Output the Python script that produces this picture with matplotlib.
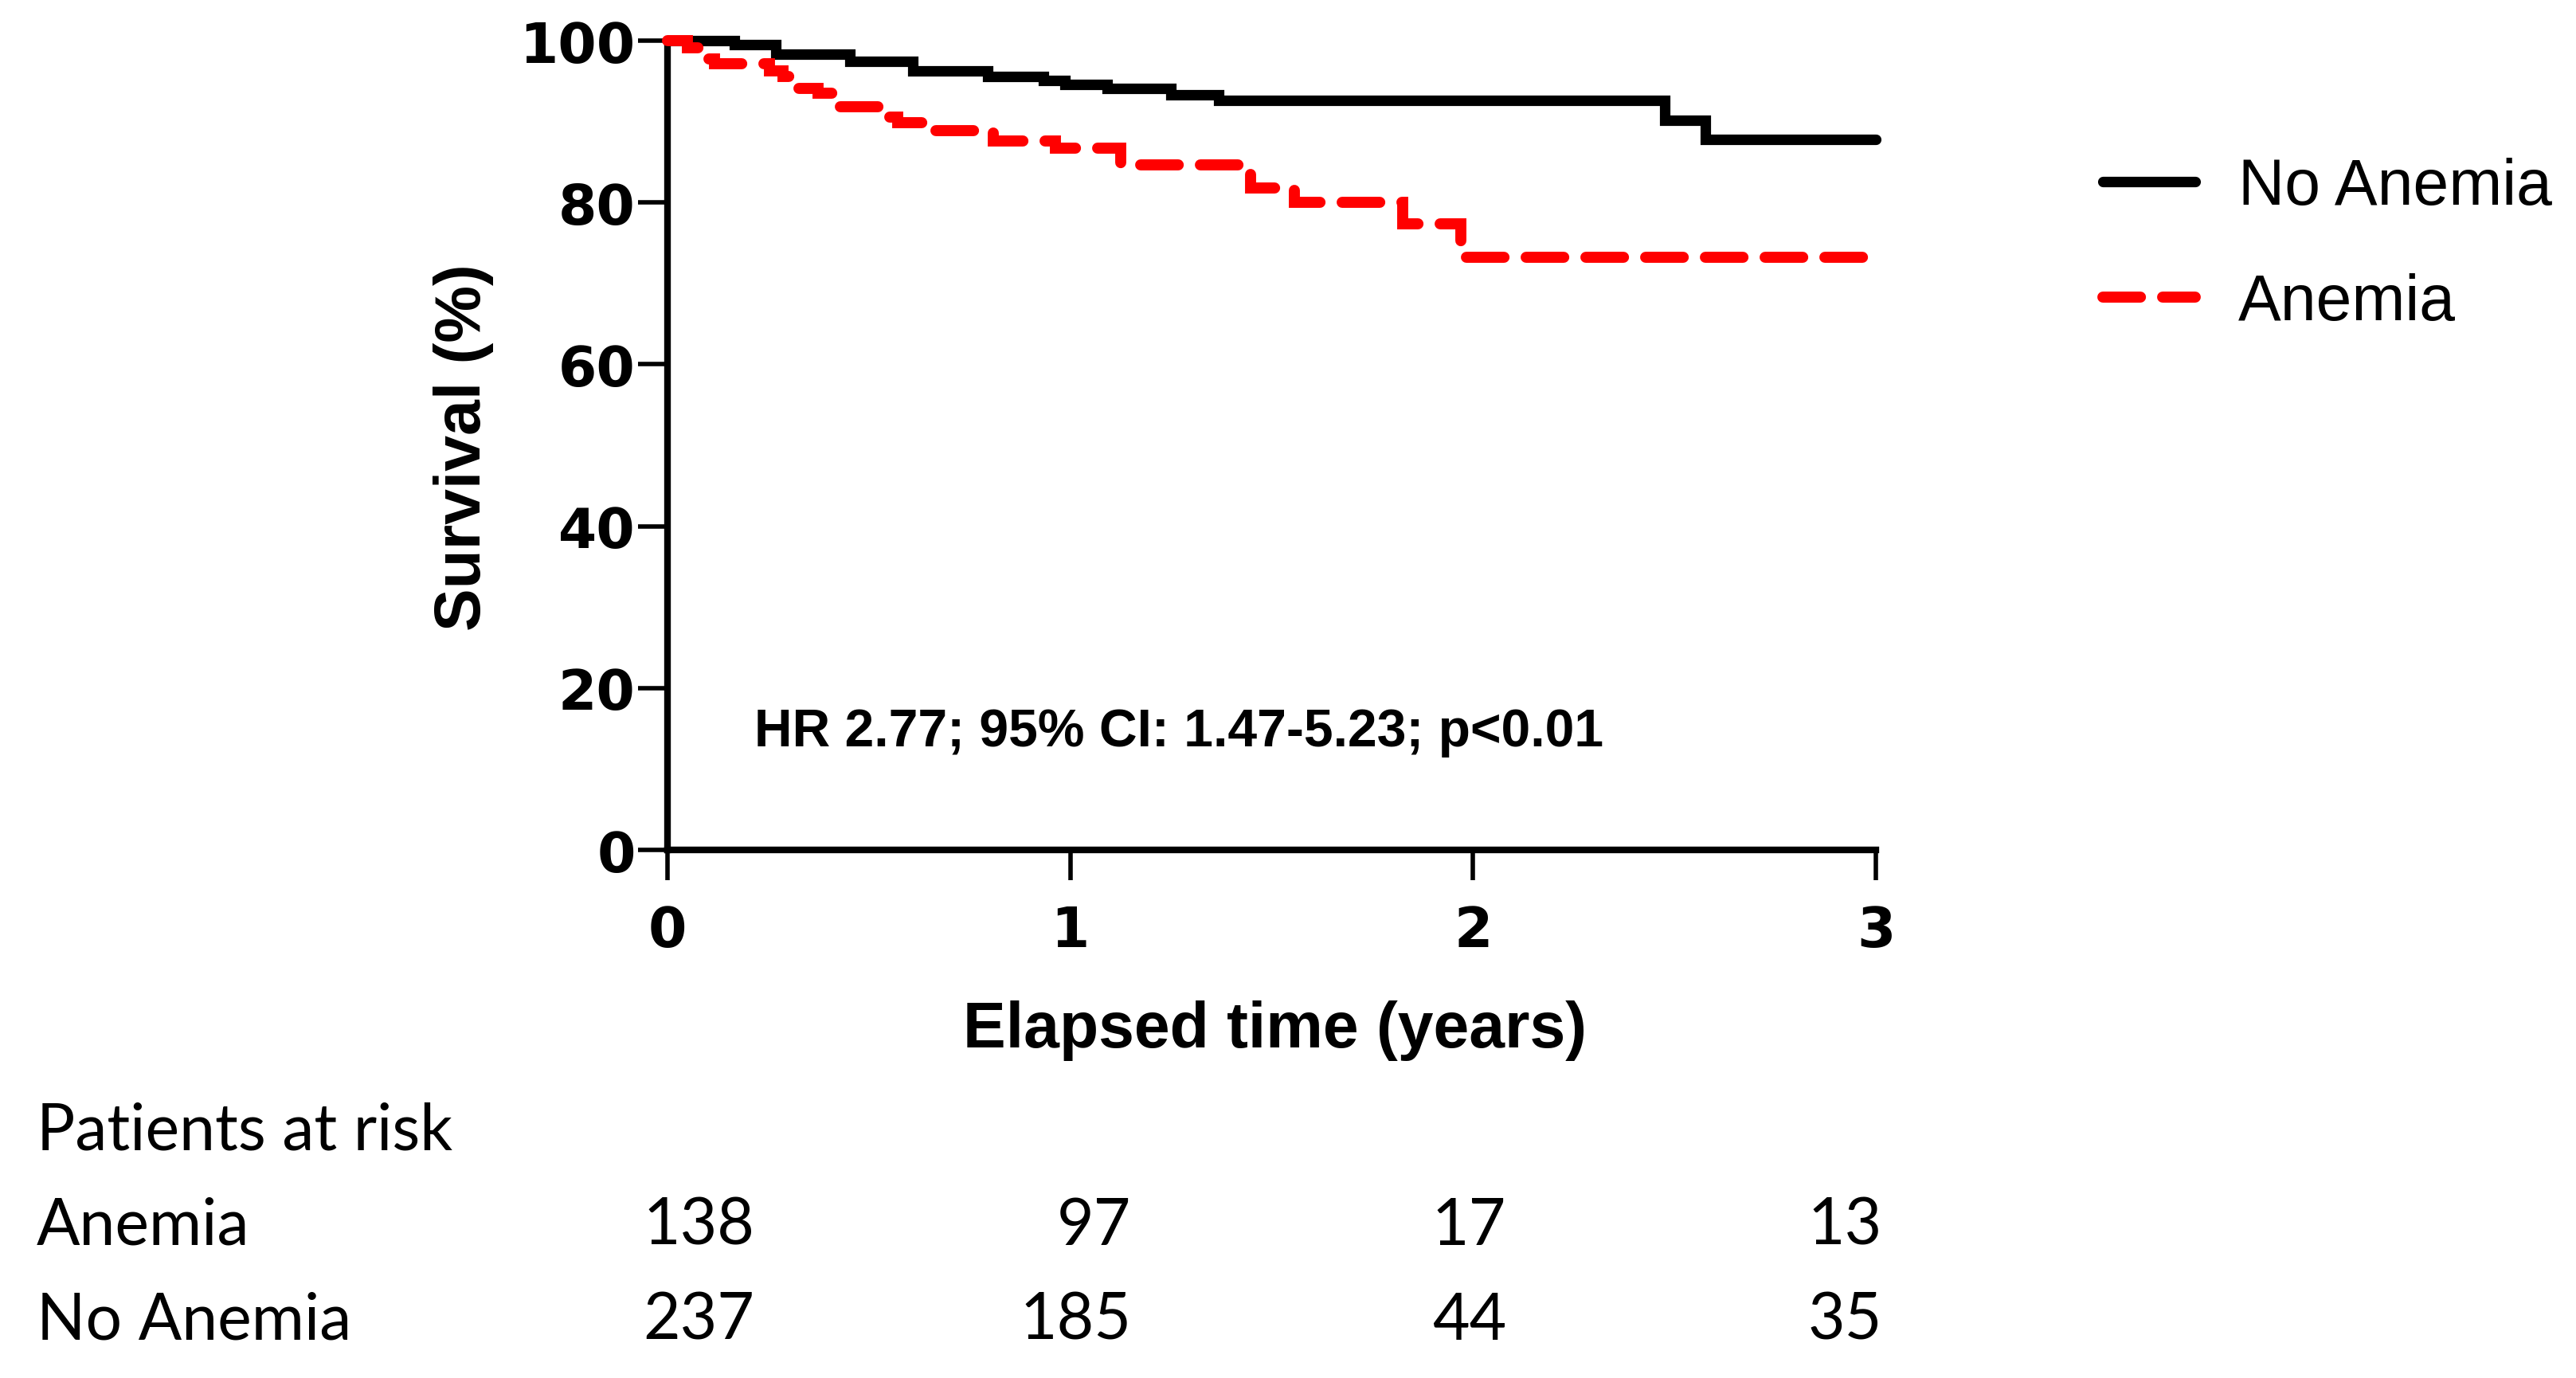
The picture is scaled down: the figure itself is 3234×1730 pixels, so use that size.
import matplotlib
matplotlib.use("Agg")
import matplotlib.pyplot as plt

# survival curves (years, % surviving)
t_no_anemia = [0, 0.166, 0.268, 0.452, 0.610, 0.795, 0.933, 0.986, 1.092, 1.25, 1.368, 2.476, 2.577, 3.0]
s_no_anemia = [100, 99.5, 98.3, 97.4, 96.3, 95.6, 95.1, 94.6, 94.1, 93.3, 92.6, 90.2, 87.8, 87.8]

t_anemia = [0, 0.05, 0.089, 0.116, 0.254, 0.287, 0.317, 0.373, 0.419, 0.535, 0.571, 0.657,
            0.808, 0.963, 1.125, 1.447, 1.557, 1.825, 1.97, 3.0]
s_anemia = [100, 99.1, 97.7, 97.1, 96.3, 95.6, 94.1, 93.5, 91.8, 90.6, 89.9, 88.9,
            87.6, 86.7, 84.6, 81.8, 80.0, 77.4, 73.2, 73.2]

x_ticks = [0, 1, 2, 3]
y_ticks = [0, 20, 40, 60, 80, 100]

risk_groups = ["Anemia", "No Anemia"]
risk_anemia = [138, 97, 17, 13]
risk_no_anemia = [237, 185, 44, 35]

stats_text = "HR 2.77; 95% CI: 1.47-5.23; p<0.01"

W, H = 3234, 1731
fig = plt.figure(figsize=(W / 100, H / 100), dpi=100)

left, right, bottom, top = 838, 2355, 1068, 52
ax = fig.add_axes([left / W, 1 - bottom / H, (right - left) / W, (bottom - top) / H])

ax.step(t_no_anemia, s_no_anemia, where="post", color="black", lw=9.5,
        solid_joinstyle="miter", solid_capstyle="round", clip_on=False,
        zorder=3, label="No Anemia")
ax.step(t_anemia, s_anemia, where="post", color="#ff0000", lw=10,
        dashes=(3.4, 2.0), dash_capstyle="round", dash_joinstyle="miter",
        clip_on=False, zorder=4, label="Anemia")

ax.set_xlim(0, 3)
ax.set_ylim(0, 100)
ax.set_xticks(x_ticks)
ax.set_yticks(y_ticks)
for sp in ["top", "right"]:
    ax.spines[sp].set_visible(False)
for sp in ["left", "bottom"]:
    ax.spines[sp].set_linewidth(6)
ax.tick_params(axis="both", direction="out", length=27, width=4, colors="black")
ax.tick_params(axis="x", pad=22)
ax.tick_params(axis="y", pad=2)
for lab in ax.get_xticklabels() + ax.get_yticklabels():
    lab.set_fontfamily("DejaVu Sans")
    lab.set_fontweight("bold")
    lab.set_fontsize(50)

ax.text(0.2155, 12.9, stats_text, fontsize=47.5, fontweight="bold",
        family="Liberation Sans", va="baseline", ha="left")

fig.text(582 / W, 1 - 562 / H, "Survival (%)", rotation=90, fontsize=58,
         fontweight="bold", family="Liberation Sans", ha="center", va="center")
fig.text(1600 / W, 1 - 1294 / H, "Elapsed time (years)", fontsize=58,
         fontweight="bold", family="Liberation Sans", ha="center", va="center")

fig.legend(loc="upper left", bbox_to_anchor=(2640 / W, 1 - 198 / H), frameon=False,
           prop={"family": "Liberation Sans", "size": 58}, handlelength=1.44,
           handletextpad=0.67, labelspacing=0.86, borderpad=0, borderaxespad=0)

# patients at risk table
tbl_font = dict(family="Lato", fontsize=58)
fig.text(46 / W, 1 - 1444 / H, "Patients at risk", va="baseline", ha="left", **tbl_font)
row_base = [1563, 1682]
col_right = [947, 1420, 1891, 2363]
for name, vals, yb in zip(risk_groups, [risk_anemia, risk_no_anemia], row_base):
    fig.text(46 / W, 1 - yb / H, name, va="baseline", ha="left", **tbl_font)
    for v, xr in zip(vals, col_right):
        fig.text(xr / W, 1 - yb / H, str(v), va="baseline", ha="right", **tbl_font)

fig.savefig("out.png", dpi=100, facecolor="white")
